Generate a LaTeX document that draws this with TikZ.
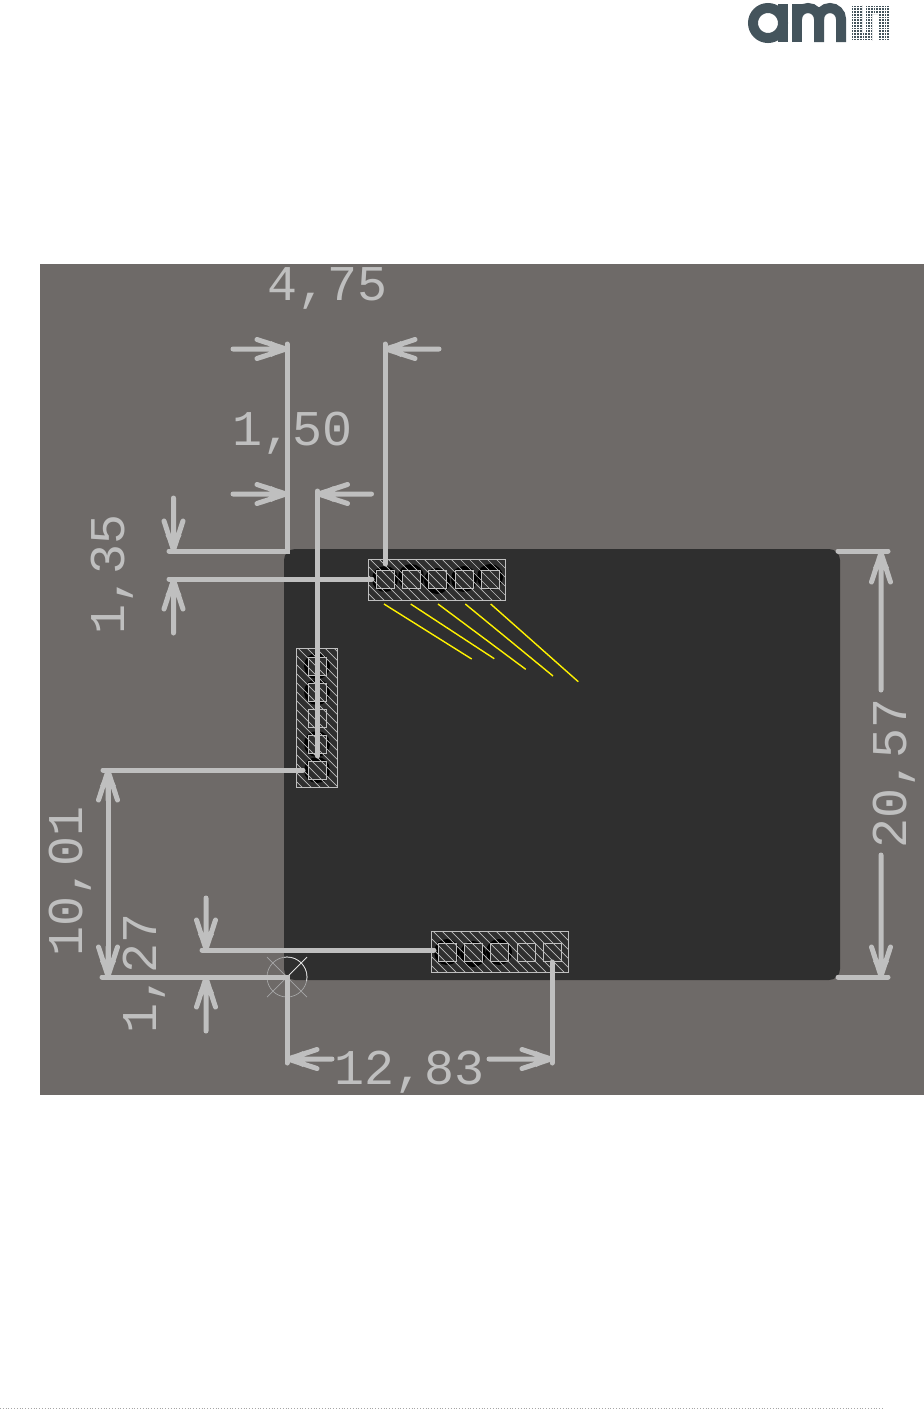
\documentclass[tikz,border=0pt]{standalone}
\usepackage{fontspec}
\setmonofont{Liberation Mono}
\usetikzlibrary{calc}
\definecolor{panelgray}{HTML}{6E6A68}
\definecolor{boardgray}{HTML}{2F2F2F}
\definecolor{dimgray}{HTML}{BFBFBF}
\definecolor{logoslate}{HTML}{44545C}
\tikzset{
  dimline/.style={dimgray,line width=5pt},
  dimtext/.style={text=dimgray,font=\ttfamily\fontsize{50}{50}\selectfont,inner sep=0pt,anchor=base},
  padbox/.style={draw=dimgray,line width=1pt},
  logoline/.style={logoslate,line width=10pt}
}
\begin{document}
\begin{tikzpicture}[x=1pt,y=-1pt]
  \useasboundingbox (0,0) rectangle (924,1409);
  \fill[white] (0,0) rectangle (924,1409);
  % logo
  \draw[logoline] (768,23) circle [radius=15];
  \draw[logoline] (783,4) -- (783,42);
  \draw[logoline] (797,42) -- (797,4);
  \draw[logoline] (797,19) arc [start angle=180, end angle=360, radius=11] -- (819,42);
  \draw[logoline] (819,19) arc [start angle=180, end angle=360, radius=11] -- (841,42);
  \begin{scope}
    \clip (851,5) rectangle (862,41) (851,33) rectangle (872,41) (866,5) rectangle (872,41) (866,5) rectangle (889,14) (878,5) rectangle (889,41);
    \fill[logoslate] (851,5) rectangle (889,41);
    \foreach \g in {0,1,...,14} {
      \draw[white,line width=.9pt] (851+2.75*\g,3) -- (851+2.75*\g,43);
      \draw[white,line width=.9pt] (849,5+2.75*\g) -- (891,5+2.75*\g);
    }
  \end{scope}
  % panel and board
  \fill[panelgray] (40,264) rectangle (924,1095);
  \fill[boardgray,rounded corners=11pt] (284,549) rectangle (840,980);
  % black spots under the pads
  \foreach \spotx/\spoty in {385/579,411/577,437/581,464/579,490/577,317/666,317/692,317/744,317/770,447/952,473/954,499/952}
    \fill[black] (\spotx,\spoty) circle [radius=13];
  \foreach \x in {385,411,437,464,490}
    \fill[boardgray] (\x-9,570) rectangle (\x+9,588);
  \foreach \y in {666,692,718,744,770}
    \fill[boardgray] (308.5,\y-9) rectangle (326.5,\y+9);
  \foreach \x in {447,473,499,526,552}
    \fill[boardgray] (\x-9,943) rectangle (\x+9,961);
  % headers
  \foreach \xa/\ya/\xb/\yb in {368.5/559.5/505.5/600.5,296.5/648.5/337.5/787.5,431.5/931.5/568.5/972.5} {
    \begin{scope}
      \clip (\xa,\ya) rectangle (\xb,\yb);
      \foreach \k in {-160,-151,...,140}
        \draw[dimgray,line width=.7pt] (\xa+\k,\ya) -- +(170,170);
    \end{scope}
    \draw[padbox] (\xa,\ya) rectangle (\xb,\yb);
  }
  \foreach \x in {385,411,437,464,490}
    \draw[padbox] (\x-9,570) rectangle (\x+9,588);
  \foreach \y in {666,692,718,744,770}
    \draw[padbox] (308.5,\y-9) rectangle (326.5,\y+9);
  \foreach \x in {447,473,499,526,552}
    \draw[padbox] (\x-9,943) rectangle (\x+9,961);
  % yellow lines
  \foreach \xa/\xb/\yb in {384/471.7/659,410.7/494.3/658.7,438/525.7/669.3,465.3/553/676,490.7/578.3/681.7}
    \draw[yellow,line width=1.4pt] (\xa,604) -- (\xb,\yb);
  % origin
  \draw[gray!70!white,line width=.7pt] (287,977) circle [radius=20];
  \draw[gray!70!white,line width=.7pt] (267,957) -- (307,997) (267,997) -- (307,957);
  \begin{scope}
    \clip (284,549) rectangle (840,980);
    \draw[white!80!gray,line width=.7pt] (287,977) circle [radius=20];
    \draw[white!80!gray,line width=.7pt] (287,977) -- (307,957);
  \end{scope}
  % extension lines
  \draw[dimline,line cap=round] (287,344) -- (287,551) -- (169,551);
  \draw[dimline,line cap=round] (385,344) -- (385,564);
  \draw[dimline,line cap=round] (317.5,491) -- (317.5,756);
  \draw[dimline,line cap=round] (169,579) -- (372,579);
  \draw[dimline,line cap=round] (103,770) -- (303,770);
  \draw[dimline,line cap=round] (102,977) -- (287,977) -- (287,1063);
  \draw[dimline,line cap=round] (202,950) -- (434,950);
  \draw[dimline,line cap=round] (552,962) -- (552,1063);
  \draw[dimline,line cap=round] (838,551) -- (888,551);
  \draw[dimline,line cap=round] (838,977) -- (888,977);
  \draw[dimline] (108,772) -- (108,975);
  % arrows: tip x, tip y, angle, tail length
  \foreach \tipx/\tipy/\ang/\len in {287/349/0/54,385/349/180/54,287/494/0/54,317.5/494/180/54,
      173.5/551/-90/53,173.5/579/90/54,206/950/-90/52,206/977/90/54,
      108/770/90/30,108/977/-90/30,287/1059/180/45,552/1059/0/63,
      881/552/90/138,881/977/-90/122} {
    \draw[dimline,line cap=round,shift={(\tipx,\tipy)},rotate=\ang]
      (-\len,0) -- (-1,0) (-30,-9.5) -- (-1,0) (-30,9.5) -- (-1,0);
    \fill[dimgray,shift={(\tipx,\tipy)},rotate=\ang] (0,0) -- (-16,-8) -- (-16,8) -- cycle;
  }
  % labels
  \node[dimtext] (lblA) at (328,300) {4,75};
  \node[dimtext] (lblB) at (293,445) {1,50};
  \node[dimtext] (lblC) at (410,1084) {12,83};
  \node[dimtext,rotate=90] (lblD) at (124,574) {1,35};
  \node[dimtext,rotate=90] (lblE) at (82,881) {10,01};
  \node[dimtext,rotate=90] (lblF) at (156,973) {1,27};
  \node[dimtext,rotate=90] (lblG) at (906,773) {20,57};
  % footer
  \draw[gray!70!white,line width=.8pt,dash pattern=on 1pt off 1.8pt] (0,1408) -- (884,1408);
\end{tikzpicture}
\end{document}
